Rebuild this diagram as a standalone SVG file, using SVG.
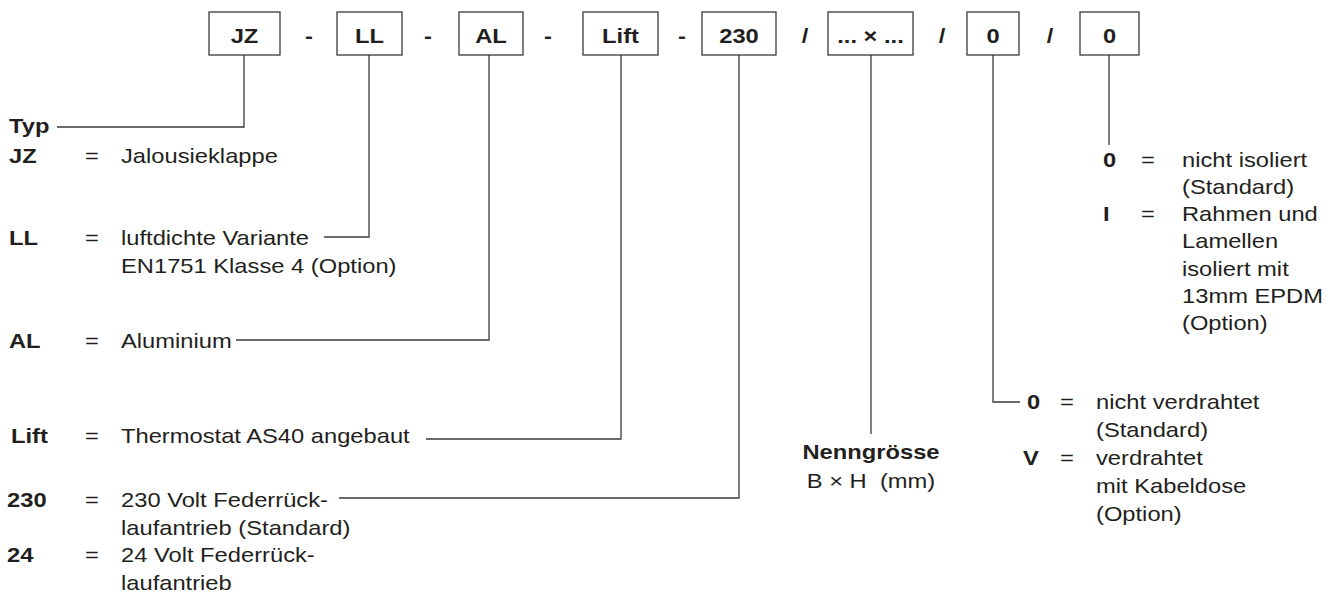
<svg xmlns="http://www.w3.org/2000/svg" width="1333" height="595" viewBox="0 0 1333 595">
<style>
  .bx{fill:#fff;stroke:#3a3a3a;stroke-width:1.3}
  .cn{fill:none;stroke:#3a3a3a;stroke-width:1.3}
  text{font-family:"Liberation Sans",Arial,Helvetica,sans-serif;font-size:21px;fill:#231f20}
  .b{font-weight:bold}
  .m{text-anchor:middle}
</style>
<rect width="1333" height="595" fill="#fff"/>

<g id="connectors">
  <path class="cn" d="M244 55V127H57"/>
  <path class="cn" d="M369 55V237H324"/>
  <path class="cn" d="M489 55V340H236"/>
  <path class="cn" d="M621 55V439H426"/>
  <path class="cn" d="M739 55V498H339"/>
  <path class="cn" d="M871 55V434"/>
  <path class="cn" d="M993 55V402H1020"/>
  <path class="cn" d="M1109 55V145"/>
</g>

<g id="code-boxes">
  <g id="box-jz"><rect class="bx" x="209" y="12" width="71" height="43"/><text class="b m" transform="translate(244.5 43) scale(1.13 1)">JZ</text></g>
  <text class="b m" transform="translate(309 43) scale(1.13 1)">-</text>
  <g id="box-ll"><rect class="bx" x="337" y="12" width="65" height="43"/><text class="b m" transform="translate(369.5 43) scale(1.13 1)">LL</text></g>
  <text class="b m" transform="translate(428 43) scale(1.13 1)">-</text>
  <g id="box-al"><rect class="bx" x="459" y="12" width="64" height="43"/><text class="b m" transform="translate(491 43) scale(1.13 1)">AL</text></g>
  <text class="b m" transform="translate(548 43) scale(1.13 1)">-</text>
  <g id="box-lift"><rect class="bx" x="583" y="12" width="75" height="43"/><text class="b m" transform="translate(620.5 43) scale(1.13 1)">Lift</text></g>
  <text class="b m" transform="translate(682 43) scale(1.13 1)">-</text>
  <g id="box-230"><rect class="bx" x="702" y="12" width="74" height="43"/><text class="b m" transform="translate(739 43) scale(1.13 1)">230</text></g>
  <text class="b m" transform="translate(805 43) scale(1.13 1)">/</text>
  <g id="box-size"><rect class="bx" x="828" y="12" width="85" height="43"/><text class="b m" transform="translate(870.5 43) scale(1.13 1)">... × ...</text></g>
  <text class="b m" transform="translate(942 43) scale(1.13 1)">/</text>
  <g id="box-wiring"><rect class="bx" x="967" y="12" width="52" height="43"/><text class="b m" transform="translate(993 43) scale(1.13 1)">0</text></g>
  <text class="b m" transform="translate(1050 43) scale(1.13 1)">/</text>
  <g id="box-insulation"><rect class="bx" x="1080" y="12" width="59" height="43"/><text class="b m" transform="translate(1109.5 43) scale(1.13 1)">0</text></g>
</g>

<g id="legend-typ">
  <text class="b" transform="translate(9 133) scale(1.13 1)">Typ</text>
  <text class="b" transform="translate(9 163) scale(1.13 1)">JZ</text>
  <text transform="translate(85 163) scale(1.13 1)">=</text>
  <text transform="translate(121 163) scale(1.13 1)">Jalousieklappe</text>
</g>

<g id="legend-ll">
  <text class="b" transform="translate(9 245) scale(1.13 1)">LL</text>
  <text transform="translate(85 245) scale(1.13 1)">=</text>
  <text transform="translate(121 245) scale(1.13 1)">luftdichte Variante</text>
  <text transform="translate(121 273) scale(1.13 1)">EN1751 Klasse 4 (Option)</text>
</g>

<g id="legend-al">
  <text class="b" transform="translate(9 348) scale(1.13 1)">AL</text>
  <text transform="translate(85 348) scale(1.13 1)">=</text>
  <text transform="translate(121 348) scale(1.13 1)">Aluminium</text>
</g>

<g id="legend-lift">
  <text class="b" transform="translate(11 443) scale(1.13 1)">Lift</text>
  <text transform="translate(85 443) scale(1.13 1)">=</text>
  <text transform="translate(121 443) scale(1.13 1)">Thermostat AS40 angebaut</text>
</g>

<g id="legend-drive">
  <text class="b" transform="translate(7 507) scale(1.13 1)">230</text>
  <text transform="translate(85 507) scale(1.13 1)">=</text>
  <text transform="translate(121 507) scale(1.13 1)">230 Volt Federrück-</text>
  <text transform="translate(121 535) scale(1.13 1)">laufantrieb (Standard)</text>
  <text class="b" transform="translate(7 562) scale(1.13 1)">24</text>
  <text transform="translate(85 562) scale(1.13 1)">=</text>
  <text transform="translate(121 562) scale(1.13 1)">24 Volt Federrück-</text>
  <text transform="translate(121 590) scale(1.13 1)">laufantrieb</text>
</g>

<g id="legend-size">
  <text class="b m" transform="translate(871 459) scale(1.13 1)">Nenngrösse</text>
  <text class="m" transform="translate(871 488) scale(1.13 1)">B × H&#160; (mm)</text>
</g>

<g id="legend-wiring">
  <text class="b" transform="translate(1027 409) scale(1.13 1)">0</text>
  <text transform="translate(1060 409) scale(1.13 1)">=</text>
  <text transform="translate(1096 409) scale(1.13 1)">nicht verdrahtet</text>
  <text transform="translate(1096 437) scale(1.13 1)">(Standard)</text>
  <text class="b" transform="translate(1023 465) scale(1.13 1)">V</text>
  <text transform="translate(1060 465) scale(1.13 1)">=</text>
  <text transform="translate(1096 465) scale(1.13 1)">verdrahtet</text>
  <text transform="translate(1096 493) scale(1.13 1)">mit Kabeldose</text>
  <text transform="translate(1096 521) scale(1.13 1)">(Option)</text>
</g>

<g id="legend-insulation">
  <text class="b" transform="translate(1103 167) scale(1.13 1)">0</text>
  <text transform="translate(1141 167) scale(1.13 1)">=</text>
  <text transform="translate(1182 167) scale(1.13 1)">nicht isoliert</text>
  <text transform="translate(1182 194) scale(1.13 1)">(Standard)</text>
  <text class="b" transform="translate(1103 221) scale(1.13 1)">I</text>
  <text transform="translate(1141 221) scale(1.13 1)">=</text>
  <text transform="translate(1182 221) scale(1.13 1)">Rahmen und</text>
  <text transform="translate(1182 248) scale(1.13 1)">Lamellen</text>
  <text transform="translate(1182 276) scale(1.13 1)">isoliert mit</text>
  <text transform="translate(1182 303) scale(1.13 1)">13mm EPDM</text>
  <text transform="translate(1182 330) scale(1.13 1)">(Option)</text>
</g>
</svg>
